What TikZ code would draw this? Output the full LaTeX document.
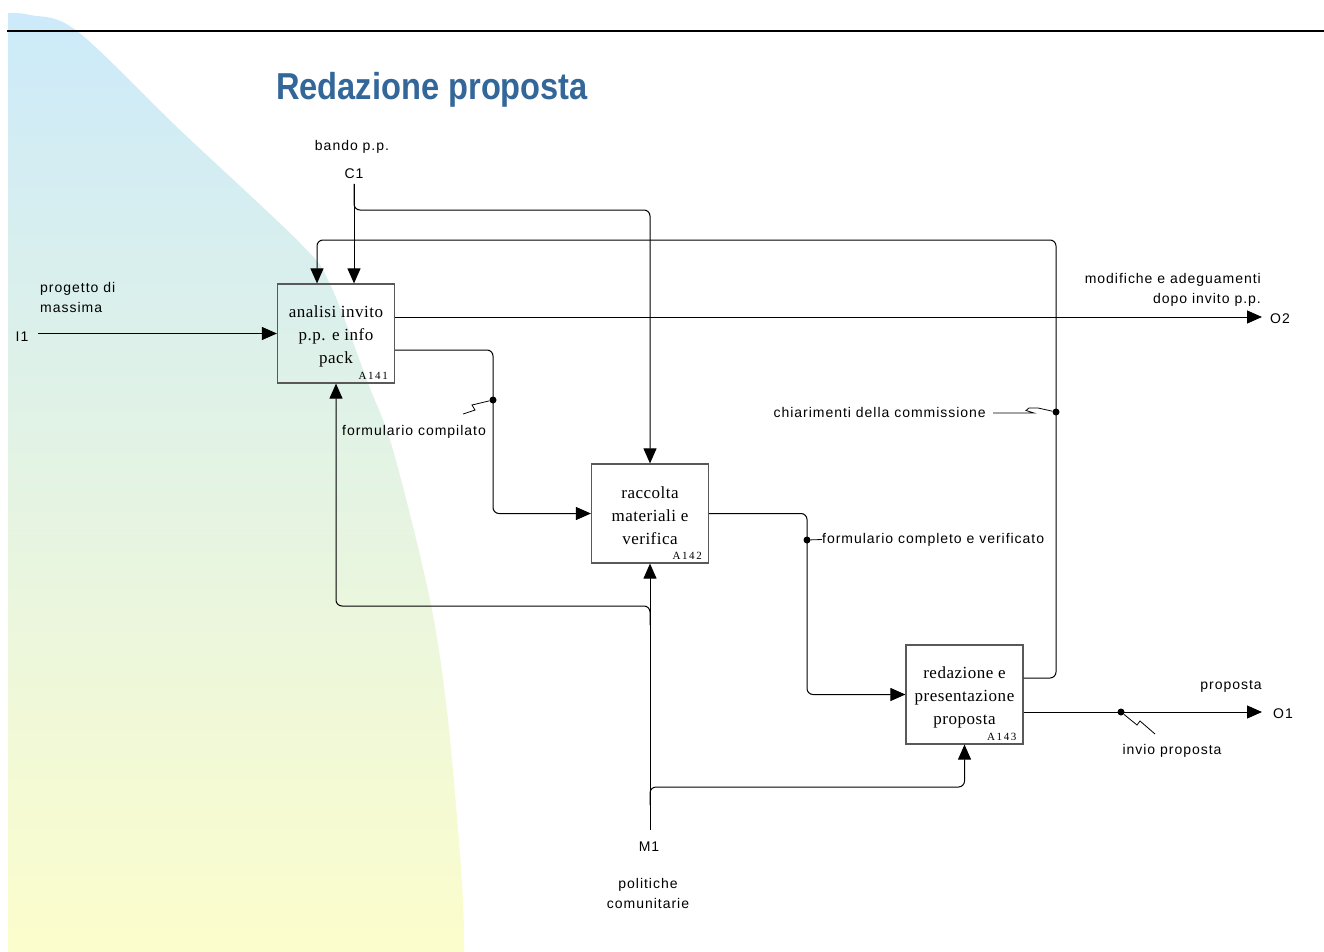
\documentclass[tikz,border=0pt]{standalone}
\usepackage{fontspec}
\setmainfont{Liberation Sans}
\newfontfamily\lblfont[LetterSpace=7]{Liberation Sans}
\newfontfamily\boxfont[LetterSpace=3]{Liberation Serif}
\newfontfamily\idfont[LetterSpace=15]{Liberation Serif}
\newfontfamily\titlefont[FakeStretch=0.87]{Liberation Sans}
\usetikzlibrary{arrows.meta}

\definecolor{titleblue}{RGB}{51,102,153}
\definecolor{bgtop}{RGB}{204,234,250}
\definecolor{bgbot}{RGB}{252,253,204}

\newcommand{\boxstrut}{\rule{0pt}{17pt}}

\begin{document}
\begin{tikzpicture}[x=1pt,y=-1pt,
  conn/.style={line width=1pt, draw=black},
  arr/.style={conn, -{Triangle[length=15pt,width=13pt]}},
  rc/.style={rounded corners=6pt},
  act/.style={draw=black!65, line width=1.2pt, minimum width=117pt,
    minimum height=99pt, inner sep=0pt, align=center,
    font=\boxfont\fontsize{17}{23}\selectfont},
  aid/.style={font=\idfont\fontsize{11}{12}\selectfont, anchor=base east, inner sep=0pt},
  lbl/.style={font=\lblfont\fontsize{14}{20}\selectfont, inner sep=0pt, yshift=-1.5pt},
  dot/.style={circle, fill=black, inner sep=0pt, minimum size=7pt},
  squig/.style={line width=0.8pt, draw=black}
]
\useasboundingbox (0,0) rectangle (1324,952);

% backdrop: quarter-round panel with a vertical blue-to-yellow blend
\shade[top color=bgtop, bottom color=bgbot]
  plot[smooth, tension=0.55] coordinates {(8,13) (30,15) (77,31) (180,130)
    (300,243) (330,284) (368,383) (393,450) (430,600) (448,720) (462,883) (464,952)}
  -- (8,952) -- cycle;

% heading rule and title
\draw[line width=1.3pt] (7,31) -- (1324,31);
\node[anchor=base west, inner sep=0pt, text=titleblue,
  font=\titlefont\bfseries\fontsize{37.5}{40}\selectfont] (title) at (276,100) {Redazione proposta};

% activity boxes
\node[act] (a141) at (336,333.5) {\boxstrut analisi invito\\p.p. e info\\pack};
\node[aid, xshift=-7pt, yshift=4.5pt] (id141) at (a141.south east) {A141};
\node[act] (a142) at (650,513.5) {\boxstrut raccolta\\materiali e\\verifica};
\node[aid, xshift=-7pt, yshift=4.5pt] (id142) at (a142.south east) {A142};
\node[act] (a143) at (964.5,694.5) {\boxstrut redazione e\\presentazione\\proposta};
\node[aid, xshift=-7pt, yshift=4.5pt] (id143) at (a143.south east) {A143};

% boundary labels
\node[lbl] (bando) at (352,145) {bando p.p.};
\node[lbl] (c1) at (354,172) {C1};
\node[lbl, align=left, anchor=west] (prog) at (40,296) {progetto di\\massima};
\node[lbl] (i1) at (22,335) {I1};
\node[lbl, align=right, anchor=east] (mod) at (1261,288) {modifiche e adeguamenti\\dopo invito p.p.};
\node[lbl, anchor=west] (o2) at (1270,317) {O2};
\node[lbl, anchor=east] (chiar) at (986,411) {chiarimenti della commissione};
\node[lbl] (fcomp) at (414,430) {formulario compilato};
\node[lbl, anchor=west] (fver) at (822,538) {formulario completo e verificato};
\node[lbl] (prop) at (1231,685) {proposta};
\node[lbl, anchor=west] (o1) at (1273,712) {O1};
\node[lbl] (invio) at (1172,749) {invio proposta};
\node[lbl] (m1) at (649,845) {M1};
\node[lbl, align=center] (polit) at (648,892) {politiche\\comunitarie};

% arrow end points and bends
\coordinate (i1s) at (38,333.5);
\coordinate (c1s) at (354,184);
\coordinate (cb) at (650,210);
\coordinate (fbR) at (1056,240);
\coordinate (o2s) at (1262,317);
\coordinate (fc) at (493,400);
\coordinate (fv) at (807,540);
\coordinate (o1s) at (1262,712);
\coordinate (m1s) at (650,830);
\coordinate (mb1) at (650,625);
\coordinate (ml) at (336,606);
\coordinate (mb2) at (650,805);
\coordinate (mr) at (964.5,787);
\coordinate (fbdot) at (1056,412);
\coordinate (o1dot) at (1121,712);

% connectors
\draw[arr] (i1s) -- (a141.west);
\draw[arr] (c1s) -- (c1s |- a141.north);
\draw[arr, rc] (c1s) |- (cb) -- (a142.north);
\draw[arr, rc] ([yshift=16.5pt]a143.east) -| (fbR) -| ([xshift=-19pt]a141.north);
\draw[arr] ([yshift=16.5pt]a141.east) -- (o2s);
\draw[arr, rc] ([yshift=-16.5pt]a141.east) -| (fc) |- (a142.west);
\draw[arr, rc] (a142.east) -| (fv) |- (a143.west);
\draw[arr] ([yshift=-17.5pt]a143.east) -- (o1s);
\draw[arr] (m1s) -- (a142.south);
\draw[arr, rc] (mb1) |- (ml) -- (a141.south);
\draw[arr, rc] (mb2) |- (mr) -- (a143.south);

% label attachments
\node[dot] (d1) at (fc) {};
\draw[squig] (d1) -- (472,405) -- (475,410) -- (463,414);
\node[dot] (d2) at (fv) {};
\draw[squig] (d2) -- (fver.west);
\node[dot] (d3) at (fbdot) {};
\draw[squig] (d3) -- (1038,408) -- (1029,408) -- (1026,410.5) -- (1034,413) -- (993,413);
\node[dot] (d4) at (o1dot) {};
\draw[squig] (d4) -- (1137,725) -- (1140,721) -- (1155,734);
\end{tikzpicture}
\end{document}
